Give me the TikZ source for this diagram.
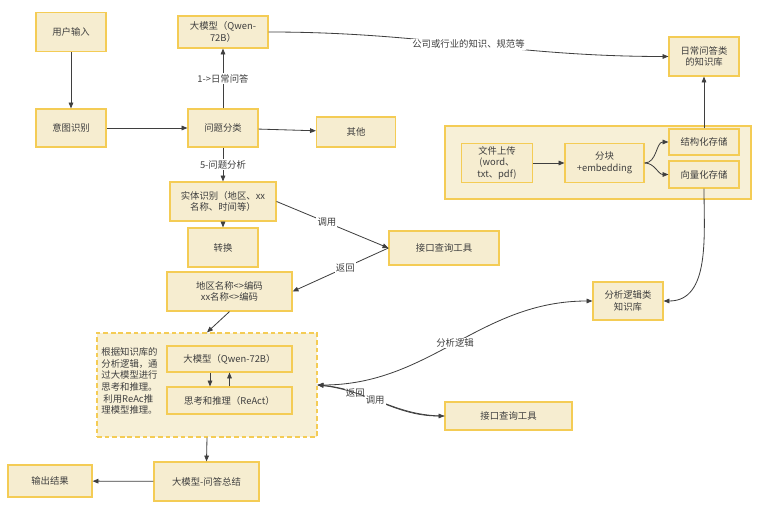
\documentclass[tikz,border=0pt]{standalone}
\usepackage{fontspec}
\newfontfamily\cjkfont{Noto Sans CJK SC}
\usetikzlibrary{arrows.meta}
\definecolor{boxfill}{HTML}{F6EDD0}
\definecolor{boxline}{HTML}{F4CC55}
\definecolor{inkgray}{HTML}{3F3F3F}
\tikzset{
  blk/.style={draw=boxline, fill=boxfill, line width=1pt, text=inkgray, align=center,
    font=\cjkfont\fontsize{8}{10}\selectfont, inner sep=1pt},
  std/.style={blk, minimum width=2.1cm, minimum height=1.17cm},
  grp/.style={draw=boxline, fill=boxfill!85!white, line width=1pt, minimum width=#1},
  lbl/.style={fill=white, text=inkgray, font=\cjkfont\fontsize{8}{10}\selectfont, inner sep=1pt},
  link/.style={draw=inkgray, line width=0.7pt}
}
\begin{document}
\begin{tikzpicture}[x=0.03cm, y=-0.03cm, >={Triangle[length=5pt,width=4pt]}]
  \useasboundingbox (0,0) rectangle (783,516);

  % groups
  \node[grp=9.18cm, minimum height=2.19cm] (ingest) at (598,162.5) {};
  \node[grp=6.6cm, minimum height=3.12cm, dash pattern=on 4pt off 2.5pt] (reason) at (207,385) {};

  % left column
  \node[std] (input) at (71,32) {用户输入};
  \node[std, minimum height=1.14cm] (intent) at (71,128) {意图识别};
  \node[blk, minimum width=2.7cm, minimum height=0.96cm] (llm) at (223,32) {大模型（Qwen-\\72B）};
  \node[std, minimum height=1.14cm] (classify) at (223,128) {问题分类};
  \node[blk, minimum width=2.37cm, minimum height=0.9cm] (other) at (356,132) {其他};
  \node[blk, minimum width=3.18cm, minimum height=1.17cm] (entity) at (223,201.5) {实体识别（地区、xx\\名称、时间等）};
  \node[std] (convert) at (223,247.5) {转换};
  \node[blk, minimum width=3.3cm, minimum height=1.02cm] (tool) at (444,248) {接口查询工具};
  \node[blk, minimum width=3.75cm, minimum height=1.17cm] (geo) at (229.5,291.5) {地区名称<>编码\\xx名称<>编码};

  % reasoning block
  \node[blk, draw=none, fill=none, align=left] (note) at (129.5,381) {根据知识库的\\分析逻辑，通\\过大模型进行\\思考和推理。\\\ 利用ReAc推\\理模型推理。};
  \node[blk, minimum width=3.75cm, minimum height=0.78cm] (llmb) at (229.5,359) {大模型（Qwen-72B）};
  \node[blk, minimum width=3.75cm, minimum height=0.81cm] (react) at (229.5,400.5) {思考和推理（ReAct）};
  \node[blk, minimum width=3.15cm, minimum height=1.17cm] (summary) at (206.5,481.5) {大模型-问答总结};
  \node[blk, minimum width=2.52cm, minimum height=0.96cm] (output) at (50,481) {输出结果};
  \node[blk, minimum width=3.81cm, minimum height=0.84cm] (toolb) at (508.5,416) {接口查询工具};

  % knowledge side
  \node[std] (dailykb) at (704,56.5) {日常问答类\\的知识库};
  \node[blk, minimum width=2.13cm, minimum height=1.17cm] (upload) at (497,163) {文件上传\\(word、\\txt、pdf)};
  \node[blk, minimum width=2.37cm, minimum height=1.17cm] (chunk) at (604.5,163) {分块\\+embedding};
  \node[blk, minimum width=2.1cm, minimum height=0.78cm] (structured) at (704,142) {结构化存储};
  \node[blk, minimum width=2.1cm, minimum height=0.81cm] (vector) at (704,174.5) {向量化存储};
  \node[std, minimum height=1.14cm] (logickb) at (628,301) {分析逻辑类\\知识库};

  \draw[link,->] (input) to (intent); \draw[link,->] (intent) to (classify); \draw[link,->] (classify) to (other);
  \draw[link,->] (classify) to node[lbl] {1->日常问答} (llm);
  \draw[link,->] (classify) to node[lbl] {5-问题分析} (entity);
  \draw[link,->] (entity) to (convert);
  \draw[link,->] (entity.east) to node[lbl, pos=0.45] {调用} (tool.west);
  \draw[link,->] (tool.west) to node[lbl, pos=0.45] {返回} (geo.east);
  \draw[link,->] (geo.south) to (reason.north);
  \draw[link,->] ([xshift=-0.585cm]llmb.south) to ([xshift=-0.585cm]react.north);
  \draw[link,->] (react) to (llmb);
  \draw[link,->] (reason.south) to (summary.north); \draw[link,->] (summary) to (output);
  \draw[link,->] (llm.east) to[out=0, in=180] node[lbl] {公司或行业的知识、规范等} (dailykb.west);
  \draw[link,->] (upload) to (chunk);
  \draw[link,->] (chunk.east) to[out=0, in=180] (structured.west);
  \draw[link,->] (chunk.east) to[out=0, in=180] (vector.west);
  \draw[link,->] (structured) to (dailykb);
  \draw[link,->] (vector.south) to[out=-90, in=0] (logickb.east);
  \draw[link,<->] (reason.east) to[out=0, in=180] node[lbl] {分析逻辑} (logickb.west);
  \draw[link,->] (toolb.west) to[out=180, in=-5] node[lbl, pos=0.72] {返回} (reason.east);
  \draw[link,->] (reason.east) to[out=-5, in=180] node[lbl, pos=0.45] {调用} (toolb.west);
\end{tikzpicture}
\end{document}
